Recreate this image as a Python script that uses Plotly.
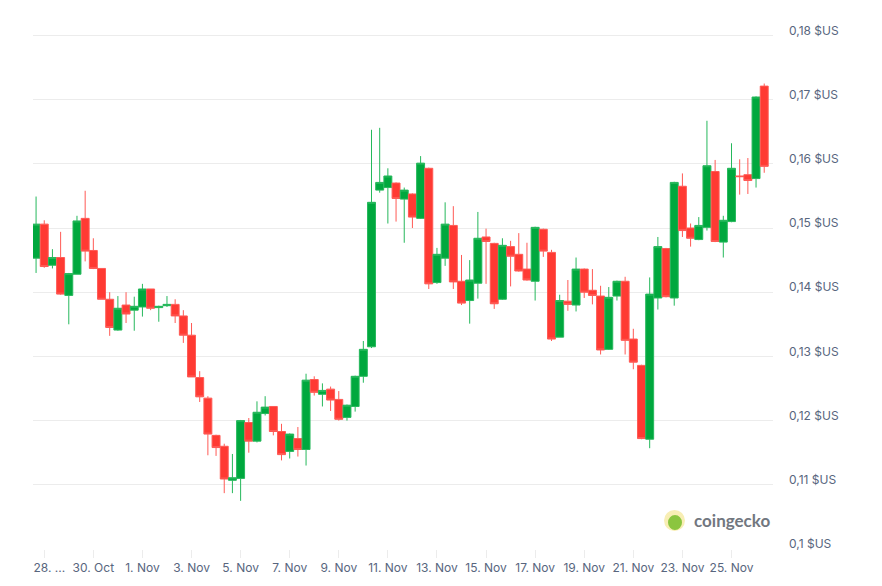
import pandas as pd
import plotly.graph_objects as go

# 8h candles
times = pd.date_range("2024-10-27 16:00", periods=90, freq="8h")

open_ = [
    0.1453, 0.1506, 0.1442, 0.1454, 0.1395, 0.1428, 0.1515, 0.1465, 0.1437, 0.1389,
    0.1341, 0.1380, 0.1372, 0.1377, 0.1405, 0.1376, 0.1379, 0.1381, 0.1363, 0.1333,
    0.1267, 0.1235, 0.1177, 0.1160, 0.1107, 0.1110, 0.1197, 0.1168, 0.1211, 0.1222,
    0.1183, 0.1152, 0.1172, 0.1155, 0.1264, 0.1241, 0.1249, 0.1233, 0.1205, 0.1222,
    0.1269, 0.1315, 0.1559, 0.1563, 0.1570, 0.1545, 0.1553, 0.1515, 0.1593, 0.1415,
    0.1453, 0.1504, 0.1417, 0.1387, 0.1414, 0.1486, 0.1476, 0.1389, 0.1471, 0.1459,
    0.1436, 0.1417, 0.1498, 0.1462, 0.1330, 0.1386, 0.1380, 0.1436, 0.1403, 0.1394,
    0.1311, 0.1394, 0.1417, 0.1327, 0.1286, 0.1171, 0.1391, 0.1468, 0.1391, 0.1565,
    0.1500, 0.1482, 0.1501, 0.1588, 0.1478, 0.1510, 0.1581, 0.1583, 0.1577, 0.1721,
]
high = [
    0.1549, 0.1512, 0.1467, 0.1494, 0.1430, 0.1519, 0.1558, 0.1484, 0.1437, 0.1400,
    0.1394, 0.1400, 0.1393, 0.1413, 0.1405, 0.1379, 0.1394, 0.1389, 0.1372, 0.1352,
    0.1277, 0.1238, 0.1178, 0.1164, 0.1148, 0.1201, 0.1204, 0.1230, 0.1238, 0.1222,
    0.1195, 0.1180, 0.1190, 0.1273, 0.1269, 0.1258, 0.1253, 0.1246, 0.1225, 0.1270,
    0.1324, 0.1653, 0.1656, 0.1593, 0.1571, 0.1563, 0.1554, 0.1612, 0.1594, 0.1469,
    0.1540, 0.1534, 0.1458, 0.1450, 0.1525, 0.1499, 0.1477, 0.1484, 0.1480, 0.1492,
    0.1477, 0.1502, 0.1499, 0.1466, 0.1396, 0.1419, 0.1454, 0.1437, 0.1436, 0.1410,
    0.1408, 0.1418, 0.1424, 0.1343, 0.1287, 0.1423, 0.1486, 0.1469, 0.1572, 0.1585,
    0.1507, 0.1517, 0.1667, 0.1606, 0.1519, 0.1632, 0.1607, 0.1609, 0.1705, 0.1725,
]
low = [
    0.1430, 0.1438, 0.1437, 0.1396, 0.1350, 0.1428, 0.1448, 0.1436, 0.1389, 0.1332,
    0.1340, 0.1352, 0.1340, 0.1362, 0.1372, 0.1354, 0.1377, 0.1352, 0.1321, 0.1268,
    0.1229, 0.1146, 0.1145, 0.1087, 0.1087, 0.1075, 0.1150, 0.1166, 0.1208, 0.1177,
    0.1138, 0.1141, 0.1144, 0.1130, 0.1239, 0.1222, 0.1215, 0.1200, 0.1200, 0.1214,
    0.1259, 0.1313, 0.1555, 0.1507, 0.1510, 0.1477, 0.1500, 0.1514, 0.1405, 0.1413,
    0.1441, 0.1405, 0.1380, 0.1351, 0.1390, 0.1413, 0.1374, 0.1388, 0.1409, 0.1432,
    0.1418, 0.1387, 0.1455, 0.1324, 0.1330, 0.1371, 0.1370, 0.1391, 0.1381, 0.1303,
    0.1310, 0.1387, 0.1303, 0.1280, 0.1171, 0.1157, 0.1373, 0.1392, 0.1379, 0.1486,
    0.1471, 0.1481, 0.1496, 0.1478, 0.1454, 0.1509, 0.1552, 0.1553, 0.1563, 0.1586,
]
close = [
    0.1506, 0.1440, 0.1454, 0.1397, 0.1429, 0.1511, 0.1464, 0.1437, 0.1389, 0.1345,
    0.1375, 0.1366, 0.1378, 0.1405, 0.1375, 0.1378, 0.1381, 0.1363, 0.1333, 0.1268,
    0.1237, 0.1179, 0.1158, 0.1109, 0.1111, 0.1200, 0.1168, 0.1213, 0.1221, 0.1183,
    0.1147, 0.1179, 0.1155, 0.1263, 0.1244, 0.1247, 0.1232, 0.1202, 0.1224, 0.1269,
    0.1311, 0.1540, 0.1571, 0.1581, 0.1546, 0.1559, 0.1517, 0.1601, 0.1413, 0.1459,
    0.1506, 0.1416, 0.1383, 0.1419, 0.1484, 0.1479, 0.1382, 0.1473, 0.1456, 0.1433,
    0.1419, 0.1501, 0.1464, 0.1327, 0.1387, 0.1381, 0.1436, 0.1400, 0.1395, 0.1310,
    0.1392, 0.1417, 0.1325, 0.1291, 0.1172, 0.1397, 0.1471, 0.1393, 0.1571, 0.1496,
    0.1484, 0.1504, 0.1597, 0.1479, 0.1512, 0.1593, 0.1580, 0.1574, 0.1704, 0.1596,
]

# axis labels
x_tick_dates = pd.date_range("2024-10-28", "2024-11-25", freq="2D")
x_tick_text = [
    "\u00a0\u00a0\u00a028. ...", "30. Oct", "1. Nov", "3. Nov", "5. Nov", "7. Nov",
    "9. Nov", "11. Nov", "13. Nov", "15. Nov", "17. Nov", "19. Nov", "21. Nov",
    "23. Nov", "25. Nov",
]
y_tick_vals = [0.10, 0.11, 0.12, 0.13, 0.14, 0.15, 0.16, 0.17, 0.18]
y_tick_text = ["0,1 $US", "0,11 $US", "0,12 $US", "0,13 $US", "0,14 $US",
               "0,15 $US", "0,16 $US", "0,17 $US", "0,18 $US"]

GREEN = "#00a83e"
RED = "#ff3a33"
GRID = "#ececec"
TXT = "#58667e"

fig = go.Figure(
    go.Candlestick(
        x=times,
        open=open_,
        high=high,
        low=low,
        close=close,
        increasing=dict(fillcolor=GREEN, line=dict(color="#26b85c", width=1)),
        decreasing=dict(fillcolor=RED, line=dict(color="#ff5a55", width=1)),
        whiskerwidth=0,
        hoverinfo="skip",
    )
)

# page has an 8px body margin, plot area sits at x 33..773, y 30..549 on screen
def px(x):
    return (x - 33) / 740


def py(y):
    return (549 - y) / 519


# little coingecko badge in the corner
fig.add_shape(type="circle", xref="paper", yref="paper",
              x0=px(664), x1=px(685), y0=py(531), y1=py(510),
              fillcolor="#f8eeb4", line=dict(width=0))
fig.add_shape(type="circle", xref="paper", yref="paper",
              x0=px(668), x1=px(682), y0=py(530), y1=py(515),
              fillcolor="#8bc53f", line=dict(width=0))
fig.add_annotation(text="<b>coingecko</b>", xref="paper", yref="paper",
                   x=px(692), y=py(520), xanchor="left", yanchor="middle",
                   showarrow=False, font=dict(family="Lato", size=17, color="#72777f"))

fig.update_layout(
    width=874,
    height=578,
    margin=dict(l=25, r=109, t=22, b=37),
    paper_bgcolor="white",
    plot_bgcolor="white",
    showlegend=False,
    boxgap=0.03,
    boxgroupgap=0,
    font=dict(family="Inter", size=12, color=TXT),
    xaxis=dict(
        rangeslider=dict(visible=False),
        range=[pd.Timestamp("2024-10-27 13:00"), pd.Timestamp("2024-11-26 16:35")],
        tickvals=x_tick_dates,
        ticktext=x_tick_text,
        showgrid=False,
        ticks="outside",
        ticklen=8,
        tickcolor=GRID,
        showline=False,
        zeroline=False,
        tickfont=dict(size=12, color=TXT),
    ),
    yaxis=dict(
        side="right",
        range=[0.10, 0.18084],
        tickvals=y_tick_vals,
        ticktext=y_tick_text,
        showgrid=True,
        gridcolor=GRID,
        gridwidth=1,
        zeroline=False,
        ticklabelstandoff=15,
        ticklabelshift=-5,
        tickfont=dict(size=12, color=TXT),
    ),
)

fig.write_html("out.html")
